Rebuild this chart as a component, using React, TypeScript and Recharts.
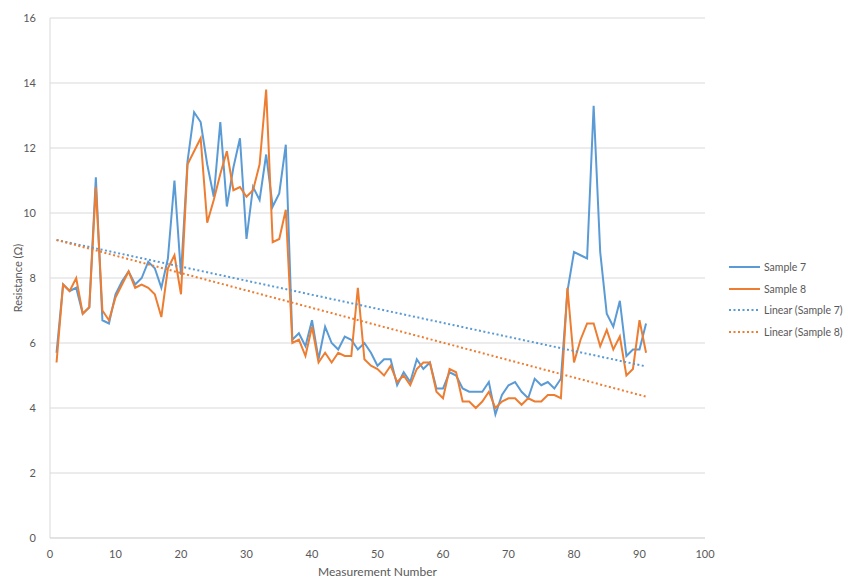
import React from 'react';
import {
  LineChart,
  Line,
  XAxis,
  YAxis,
  CartesianGrid,
} from 'recharts';

// measurement numbers 1..91
const measurements = Array.from({ length: 91 }, (_, i) => i + 1);

const sample7 = [
  5.7, 7.8, 7.6, 7.7, 6.9, 7.1, 11.1, 6.7, 6.6, 7.5,
  7.9, 8.2, 7.8, 8.0, 8.5, 8.3, 7.7, 8.6, 11.0, 8.1,
  11.6, 13.1, 12.8, 11.5, 10.5, 12.8, 10.2, 11.4, 12.3, 9.2,
  10.8, 10.4, 11.8, 10.2, 10.6, 12.1, 6.1, 6.3, 5.9, 6.7,
  5.5, 6.5, 6.0, 5.8, 6.2, 6.1, 5.8, 6.0, 5.7, 5.3,
  5.5, 5.5, 4.7, 5.1, 4.8, 5.5, 5.2, 5.4, 4.6, 4.6,
  5.1, 5.0, 4.6, 4.5, 4.5, 4.5, 4.8, 3.8, 4.4, 4.7,
  4.8, 4.5, 4.3, 4.9, 4.7, 4.8, 4.6, 4.9, 7.6, 8.8,
  8.7, 8.6, 13.3, 8.8, 6.9, 6.5, 7.3, 5.6, 5.8, 5.8,
  6.6,
];

const sample8 = [
  5.4, 7.8, 7.6, 8.0, 6.9, 7.1, 10.8, 7.0, 6.7, 7.4,
  7.8, 8.2, 7.7, 7.8, 7.7, 7.5, 6.8, 8.3, 8.7, 7.5,
  11.5, 11.9, 12.3, 9.7, 10.4, 11.2, 11.9, 10.7, 10.8, 10.5,
  10.7, 11.5, 13.8, 9.1, 9.2, 10.1, 6.0, 6.1, 5.6, 6.5,
  5.4, 5.7, 5.4, 5.7, 5.6, 5.6, 7.7, 5.5, 5.3, 5.2,
  5.0, 5.3, 4.8, 5.0, 4.7, 5.2, 5.4, 5.4, 4.5, 4.3,
  5.2, 5.1, 4.2, 4.2, 4.0, 4.2, 4.5, 4.0, 4.2, 4.3,
  4.3, 4.1, 4.3, 4.2, 4.2, 4.4, 4.4, 4.3, 7.7, 5.4,
  6.1, 6.6, 6.6, 5.9, 6.4, 5.8, 6.2, 5.0, 5.2, 6.7,
  5.7,
];

// trendline end values read at measurement 1 and 91
const trend7Ends = [9.17, 5.28];
const trend8Ends = [9.17, 4.35];

const xTicks = [0, 10, 20, 30, 40, 50, 60, 70, 80, 90, 100];
const yTicks = [0, 2, 4, 6, 8, 10, 12, 14, 16];

const BLUE = '#5B9BD5';
const ORANGE = '#ED7D31';
const TEXT = '#595959';
const GRID = '#d9d9d9';
const FONT = 'Lato, "Open Sans", sans-serif';

const last = measurements.length - 1;
const data = measurements.map((m, i) => ({
  m,
  s7: sample7[i],
  s8: sample8[i],
  t7: i === 0 ? trend7Ends[0] : i === last ? trend7Ends[1] : null,
  t8: i === 0 ? trend8Ends[0] : i === last ? trend8Ends[1] : null,
}));

const legendItems = [
  { label: 'Sample 7', color: BLUE, dotted: false },
  { label: 'Sample 8', color: ORANGE, dotted: false },
  { label: 'Linear (Sample 7)', color: BLUE, dotted: true },
  { label: 'Linear (Sample 8)', color: ORANGE, dotted: true },
];

const ChartLegend = () => (
  <div
    style={{
      position: 'absolute',
      left: 728,
      top: 256,
      width: 120,
      fontFamily: FONT,
      fontSize: 10.5,
      color: TEXT,
    }}
  >
    {legendItems.map((item) => (
      <div
        key={item.label}
        style={{ display: 'flex', alignItems: 'center', height: 21.7, whiteSpace: 'nowrap' }}
      >
        <svg width={33} height={6} style={{ marginRight: 3, flexShrink: 0 }}>
          <line
            x1={1}
            y1={3}
            x2={32}
            y2={3}
            stroke={item.color}
            strokeWidth={2}
            strokeDasharray={item.dotted ? '2 2.5' : undefined}
          />
        </svg>
        <span style={{ flexShrink: 0 }}>{item.label}</span>
      </div>
    ))}
  </div>
);

export default function App() {
  return (
    <div style={{ position: 'absolute', left: 0, top: 0, width: 848, height: 578, background: '#fff', overflow: 'hidden' }}>
      <LineChart
        width={848}
        height={578}
        data={data}
        margin={{ top: 18, right: 143, left: 0, bottom: 0 }}
      >
        <CartesianGrid vertical={false} stroke={GRID} />
        <XAxis
          dataKey="m"
          type="number"
          domain={[0, 100]}
          ticks={xTicks}
          tickLine={false}
          axisLine={{ stroke: GRID }}
          tick={{ fill: TEXT, fontSize: 11, fontFamily: FONT }}
          tickMargin={6}
          height={40}
          label={{ value: 'Measurement Number', position: 'insideBottom', offset: 2, fill: TEXT, fontSize: 12, fontFamily: FONT }}
        />
        <YAxis
          domain={[0, 16]}
          ticks={yTicks}
          tickLine={false}
          axisLine={{ stroke: GRID }}
          tick={{ fill: TEXT, fontSize: 11, fontFamily: FONT }}
          tickMargin={8}
          width={50}
          label={{ value: 'Resistance (Ω)', angle: -90, position: 'insideLeft', offset: 18, fill: TEXT, fontSize: 11, fontFamily: FONT, style: { textAnchor: 'middle' } }}
        />
        <Line dataKey="s7" stroke={BLUE} strokeWidth={2} dot={false} isAnimationActive={false} />
        <Line dataKey="s8" stroke={ORANGE} strokeWidth={2} dot={false} isAnimationActive={false} />
        <Line dataKey="t7" stroke={BLUE} strokeWidth={2} strokeDasharray="2 2.5" dot={false} connectNulls isAnimationActive={false} />
        <Line dataKey="t8" stroke={ORANGE} strokeWidth={2} strokeDasharray="2 2.5" dot={false} connectNulls isAnimationActive={false} />
      </LineChart>
      <ChartLegend />
    </div>
  );
}
